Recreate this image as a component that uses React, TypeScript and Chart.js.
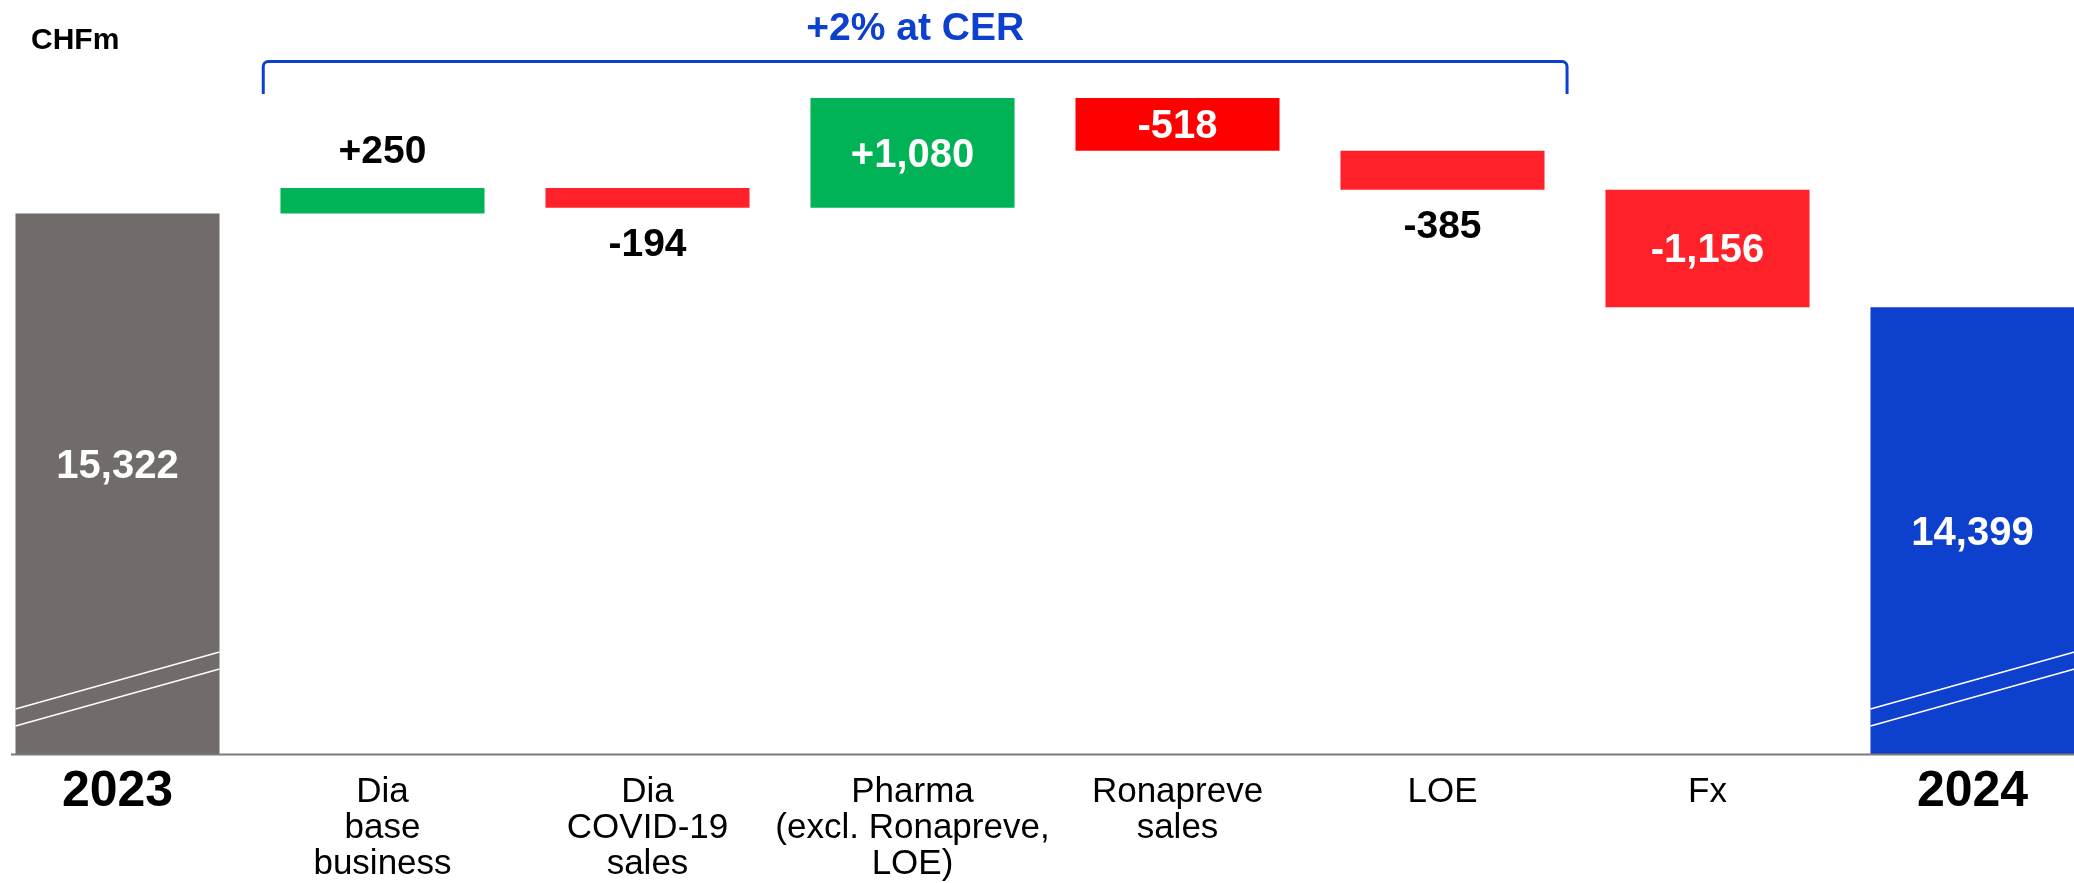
import React, { useEffect, useRef } from 'react';
import { Chart, registerables } from 'chart.js';

Chart.register(...registerables);

// ---- data ----
const categories: string[][] = [
  ['2023'],
  ['Dia', 'base', 'business'],
  ['Dia', 'COVID-19', 'sales'],
  ['Pharma', '(excl. Ronapreve,', 'LOE)'],
  ['Ronapreve', 'sales'],
  ['LOE'],
  ['Fx'],
  ['2024'],
];
const startTotal = 15322;
const changes = [250, -194, 1080, -518, -385, -1156];
const endTotal = 14399;
const barColors = ['#716c69', '#00b356', '#ff2129', '#00b356', '#ff0000', '#ff2129', '#ff2129', '#0d41cd'];
const axisMin = 10000;
const axisMax = 17000;
const unitLabel = 'CHFm';
const bracketLabel = '+2% at CER';

// ---- derived ----
const barData: (number | [number, number])[] = [startTotal];
let running = startTotal;
for (const c of changes) {
  barData.push([running, running + c]);
  running += c;
}
barData.push(endTotal);

const fmt = (v: number) => Math.abs(v).toLocaleString('en-US');
const labelTexts: string[] = [
  fmt(startTotal),
  ...changes.map((c) => (c >= 0 ? '+' : '-') + fmt(c)),
  fmt(endTotal),
];

const SANS = "'Liberation Sans', Arial, sans-serif";

const overlayPlugin = {
  id: 'overlay',
  afterDatasetsDraw(chart: any) {
    const ctx: CanvasRenderingContext2D = chart.ctx;
    const meta = chart.getDatasetMeta(0);
    const xs = chart.scales.x;
    const ys = chart.scales.y;
    const n = meta.data.length;
    ctx.save();

    // axis-break marks on the total bars
    [0, n - 1].forEach((i) => {
      const el: any = meta.data[i];
      const left = el.x - el.width / 2;
      const right = el.x + el.width / 2;
      const b = ys.bottom;
      ctx.strokeStyle = '#ffffff';
      ctx.lineWidth = 1.5;
      ctx.beginPath();
      ctx.moveTo(left, b - 45);
      ctx.lineTo(right, b - 102);
      ctx.moveTo(left, b - 28);
      ctx.lineTo(right, b - 85);
      ctx.stroke();
    });

    // baseline
    ctx.strokeStyle = '#7a7a7a';
    ctx.lineWidth = 2;
    ctx.beginPath();
    ctx.moveTo(26, ys.bottom + 0.5);
    ctx.lineTo(chart.width, ys.bottom + 0.5);
    ctx.stroke();

    // value labels
    meta.data.forEach((el: any, i: number) => {
      const { x, y, base } = el.getProps(['x', 'y', 'base'], true);
      const top = Math.max(Math.min(y, base), ys.top);
      const bottom = Math.min(Math.max(y, base), ys.bottom);
      const h = bottom - top;
      const isTotal = i === 0 || i === n - 1;
      const text = labelTexts[i];
      ctx.textAlign = 'center';
      ctx.textBaseline = 'alphabetic';
      if (isTotal || h > 45) {
        ctx.fillStyle = '#ffffff';
        ctx.font = `bold 40px ${SANS}`;
        const lift = i === 0 ? 20 : 0;
        ctx.fillText(text, x, (top + bottom) / 2 + 14 - lift);
      } else if (changes[i - 1] >= 0) {
        ctx.fillStyle = '#000000';
        ctx.font = `bold 39px ${SANS}`;
        ctx.fillText(text, x, top - 25);
      } else {
        ctx.fillStyle = '#000000';
        ctx.font = `bold 39px ${SANS}`;
        ctx.fillText(text, x, bottom + 48);
      }
    });

    // bracket
    const top = chart.chartArea.top;
    const lx = xs.getPixelForValue(0.55);
    const rx = xs.getPixelForValue(5.47);
    const hy = top + 18.5;
    const ey = top + 51;
    const r = 5;
    ctx.strokeStyle = '#0d41cd';
    ctx.lineWidth = 3;
    ctx.beginPath();
    ctx.moveTo(lx, ey);
    ctx.lineTo(lx, hy + r);
    ctx.arcTo(lx, hy, lx + r, hy, r);
    ctx.lineTo(rx - r, hy);
    ctx.arcTo(rx, hy, rx, hy + r, r);
    ctx.lineTo(rx, ey);
    ctx.stroke();
    ctx.fillStyle = '#0d41cd';
    ctx.font = `bold 39px ${SANS}`;
    ctx.textAlign = 'center';
    ctx.fillText(bracketLabel, (lx + rx) / 2, top - 3);

    // unit label
    ctx.fillStyle = '#000000';
    ctx.font = `bold 30px ${SANS}`;
    ctx.textAlign = 'left';
    ctx.fillText(unitLabel, 46, 49);

    ctx.restore();
  },
};

export default function App() {
  const canvasRef = useRef<HTMLCanvasElement | null>(null);

  useEffect(() => {
    document.body.style.margin = '0';
    const canvas = canvasRef.current;
    if (!canvas) return;
    const n = categories.length;
    const chart = new Chart(canvas, {
      type: 'bar',
      data: {
        labels: categories,
        datasets: [
          {
            data: barData as any,
            backgroundColor: barColors,
            borderWidth: 0,
            categoryPercentage: 1,
            barPercentage: 0.77,
          },
        ],
      },
      options: {
        responsive: false,
        animation: false,
        devicePixelRatio: 1,
        layout: { padding: { top: 43, left: 0, right: 0, bottom: 0 } },
        plugins: {
          legend: { display: false },
          tooltip: { enabled: false },
        },
        scales: {
          x: {
            grid: { display: false, drawTicks: false },
            border: { display: false },
            ticks: {
              autoSkip: false,
              maxRotation: 0,
              minRotation: 0,
              padding: 20,
              color: '#000000',
              font: (c: any) =>
                c.index === 0 || c.index === n - 1
                  ? { family: SANS, size: 50, weight: 'bold', lineHeight: '36.5px' }
                  : { family: SANS, size: 35, weight: 'normal', lineHeight: '36px' },
            },
            afterFit: (s: any) => {
              s.height = 129;
            },
          },
          y: {
            display: false,
            min: axisMin,
            max: axisMax,
          },
        },
      },
      plugins: [overlayPlugin],
    });
    return () => chart.destroy();
  }, []);

  return (
    <div
      style={{
        position: 'fixed',
        left: 0,
        top: 0,
        width: 2074,
        height: 883,
        overflow: 'hidden',
        background: '#ffffff',
      }}
    >
      <div style={{ position: 'absolute', left: -15, top: 0, width: 2120, height: 883 }}>
        <canvas ref={canvasRef} width={2120} height={883} style={{ width: 2120, height: 883 }} />
      </div>
    </div>
  );
}
